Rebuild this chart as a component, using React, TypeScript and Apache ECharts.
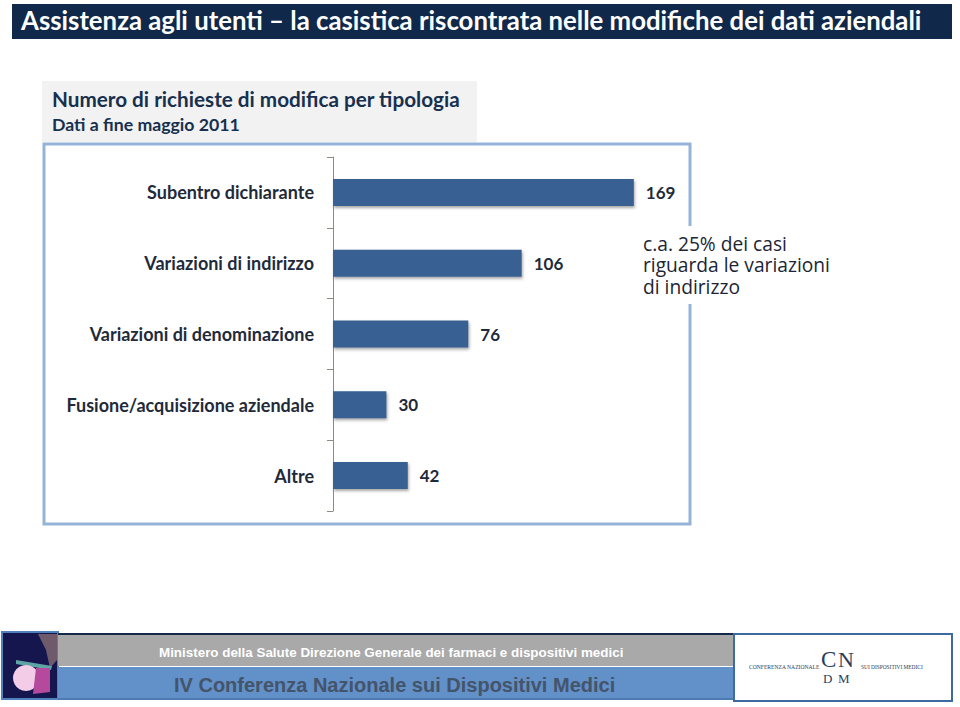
import React, { useEffect, useRef } from "react";
import * as echarts from "echarts";

const categories = ["Subentro dichiarante", "Variazioni di indirizzo", "Variazioni di denominazione", "Fusione/acquisizione aziendale", "Altre"];
const values = [169, 106, 76, 30, 42];
const headerTitle = "Assistenza agli utenti – la casistica riscontrata nelle modifiche dei dati aziendali";
const subTitle = "Numero di richieste di modifica per tipologia";
const subTitle2 = "Dati a fine maggio 2011";
const calloutLines = ["c.a. 25% dei casi", "riguarda le variazioni", "di indirizzo"];
const footerTop = "Ministero della Salute Direzione Generale dei farmaci e dispositivi medici";
const footerBottom = "IV Conferenza Nazionale sui Dispositivi Medici";

const FONT = "Lato";
const INK = "#1f2a3a";

export default function App() {
  const ref = useRef<HTMLDivElement>(null);
  useEffect(() => {
    const chart = echarts.init(ref.current!, undefined, { renderer: "svg" });
    chart.setOption({
      animation: false,
      backgroundColor: "#ffffff",
      textStyle: { fontFamily: FONT },
      grid: { left: 333, top: 157, width: 356, height: 354, containLabel: false },
      xAxis: { type: "value", min: 0, max: 200, show: false },
      yAxis: {
        type: "category",
        inverse: true,
        data: categories,
        axisLine: { show: true, lineStyle: { color: "#8c8c7c", width: 1 } },
        axisTick: { show: true, length: 6, lineStyle: { color: "#8c8c7c" } },
        axisLabel: { margin: 19, fontFamily: FONT, fontWeight: "bold", fontSize: 18, color: INK },
      },
      series: [
        {
          type: "bar",
          data: values,
          z: 5,
          barWidth: 27,
          itemStyle: {
            color: "#376092",
            shadowColor: "rgba(60,60,60,0.45)",
            shadowBlur: 3,
            shadowOffsetX: 1,
            shadowOffsetY: 2,
          },
          label: {
            show: true,
            position: "right",
            distance: 12,
            fontFamily: FONT,
            fontWeight: "bold",
            fontSize: 17,
            color: INK,
          },
        },
      ],
      graphic: [
        { type: "rect", z: -10, silent: true, shape: { x: 12, y: 4, width: 940, height: 35 }, style: { fill: "#10284a" } },
        { type: "text", z: 10, x: 21, y: 20, style: { text: headerTitle, fill: "#ffffff", font: `bold 25.75px ${FONT}`, textVerticalAlign: "middle" } },
        { type: "rect", z: -10, silent: true, shape: { x: 42, y: 81, width: 435, height: 61 }, style: { fill: "#f2f2f2" } },
        { type: "text", z: 10, x: 52, y: 99, style: { text: subTitle, fill: "#17304f", font: `bold 20.7px ${FONT}`, textVerticalAlign: "middle" } },
        { type: "text", z: 10, x: 52, y: 124, style: { text: subTitle2, fill: "#17304f", font: `bold 17.7px ${FONT}`, textVerticalAlign: "middle" } },
        { type: "rect", z: -9, silent: true, shape: { x: 44, y: 144, width: 646, height: 380 }, style: { fill: "#ffffff", stroke: "#95b3d7", lineWidth: 3 } },
        { type: "rect", z: -8, silent: true, shape: { x: 636, y: 226, width: 200, height: 78 }, style: { fill: "#ffffff" } },
        {
          type: "text", z: 10, x: 643, y: 264.5,
          style: { text: calloutLines.join("\n"), fill: "#1c2533", font: `19.2px "Open Sans"`, lineHeight: 21.5, textVerticalAlign: "middle" },
        },
        // footer
        { type: "rect", z: 1, shape: { x: 2, y: 632, width: 56, height: 67 }, style: { fill: "#16164e", stroke: "#4f81bd", lineWidth: 2 } },
        { type: "polygon", z: 2, shape: { points: [[38, 634], [57, 634], [57, 660], [50, 668], [46, 650]] }, style: { fill: "#6e5a6a" } },
        { type: "polygon", z: 2, shape: { points: [[16, 660], [52, 666], [51, 670], [16, 664]] }, style: { fill: "#5fa5a5" } },
        { type: "circle", z: 2, shape: { cx: 26, cy: 678, r: 13 }, style: { fill: "#f3cde8" } },
        { type: "polygon", z: 3, shape: { points: [[36, 668], [50, 668], [50, 692], [33, 694]] }, style: { fill: "#b54a9c" } },
        { type: "rect", z: 1, shape: { x: 58, y: 634, width: 676, height: 32 }, style: { fill: "#a9a9a9" } },
        { type: "rect", z: 1, shape: { x: 58, y: 633, width: 676, height: 2 }, style: { fill: "#14284a" } },
        { type: "rect", z: 1, shape: { x: 58, y: 667, width: 676, height: 32 }, style: { fill: "#6290c8" } },
        { type: "rect", z: 1, shape: { x: 58, y: 698, width: 676, height: 2 }, style: { fill: "#4f7cb0" } },
        { type: "text", z: 4, x: 159, y: 652, style: { text: footerTop, fill: "#ffffff", font: `bold 13.4px "Liberation Sans"`, textVerticalAlign: "middle" } },
        { type: "text", z: 4, x: 174, y: 685, style: { text: footerBottom, fill: "#44546a", font: `bold 20px "Liberation Sans"`, textVerticalAlign: "middle" } },
        { type: "rect", z: 2, shape: { x: 734, y: 634, width: 218, height: 67 }, style: { fill: "#ffffff", stroke: "#3f6aa0", lineWidth: 2 } },
        { type: "text", z: 4, x: 749, y: 667, style: { text: "CONFERENZA NAZIONALE", fill: "#2a3a55", font: `5.6px "Liberation Serif"`, textVerticalAlign: "middle" } },
        { type: "text", z: 4, x: 861, y: 667, style: { text: "SUI DISPOSITIVI MEDICI", fill: "#2a3a55", font: `5.4px "Liberation Serif"`, textVerticalAlign: "middle" } },
        { type: "text", z: 4, x: 821, y: 659, style: { text: "C", fill: "#2a3f60", font: `23px "Liberation Serif"`, textVerticalAlign: "middle" } },
        { type: "text", z: 4, x: 838, y: 659, style: { text: "N", fill: "#2a3f60", font: `22px "Liberation Serif"`, textVerticalAlign: "middle" } },
        { type: "text", z: 4, x: 823, y: 678.5, style: { text: "D", fill: "#2a3f60", font: `13px "Liberation Serif"`, textVerticalAlign: "middle" } },
        { type: "text", z: 4, x: 838, y: 678.5, style: { text: "M", fill: "#2a3f60", font: `13px "Liberation Serif"`, textVerticalAlign: "middle" } },
      ],
    });
    return () => chart.dispose();
  }, []);
  return <div ref={ref} style={{ position: "absolute", left: 0, top: 0, width: 960, height: 707 }} />;
}
